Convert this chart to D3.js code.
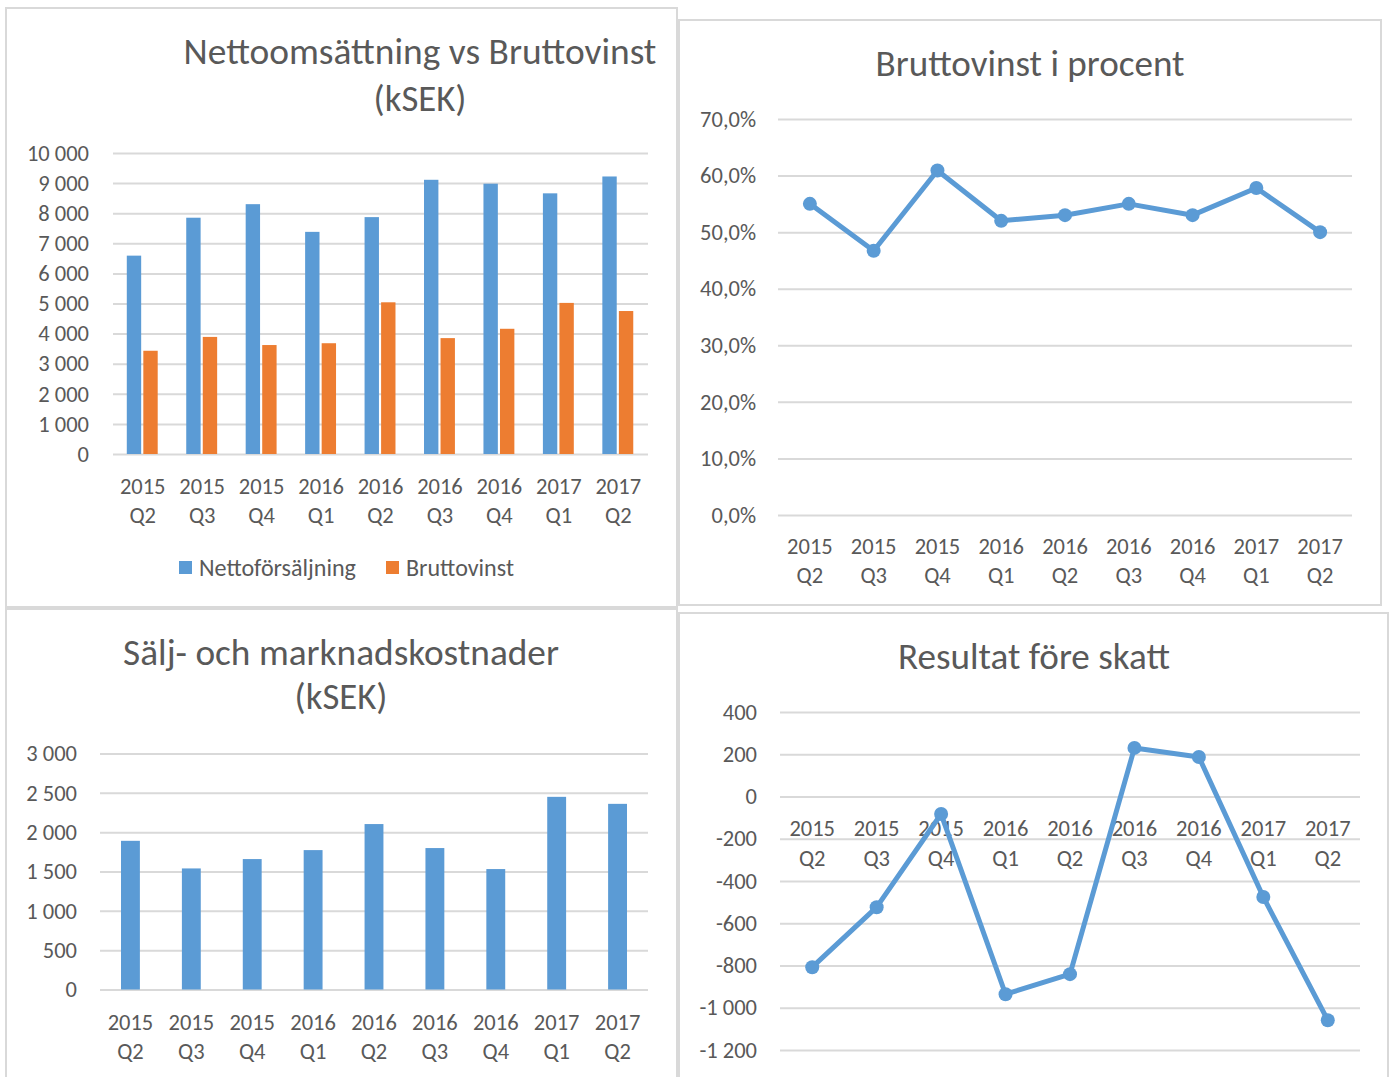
<!DOCTYPE html>
<html>
<head>
<meta charset="utf-8">
<script src="https://cdn.jsdelivr.net/npm/d3@7"></script>
<style>
  html, body { margin: 0; padding: 0; background: #ffffff; }
  svg { display: block; }
  text { font-family: Carlito, Lato, "Open Sans", sans-serif; fill: #595959; }
</style>
</head>
<body>
<svg id="chart" width="1390" height="1077"></svg>
<script>
// ---------- DATA ----------
const quarters = ["2015 Q2","2015 Q3","2015 Q4","2016 Q1","2016 Q2","2016 Q3","2016 Q4","2017 Q1","2017 Q2"];
const seriesNames = ["Nettoförsäljning", "Bruttovinst"];
const nettoforsaljning = [6590, 7850, 8300, 7380, 7870, 9110, 8980, 8660, 9220];
const bruttovinst      = [3430, 3890, 3620, 3680, 5040, 3850, 4160, 5020, 4750];
const bruttovinstProcent = [0.550, 0.467, 0.609, 0.520, 0.530, 0.550, 0.530, 0.578, 0.500];
const saljMarknad = [1890, 1539, 1658, 1772, 2103, 1798, 1531, 2449, 2360];
const resultatForeSkatt = [-808, -524, -83, -936, -841, 230, 187, -476, -1059];
const ticks1 = [0,1000,2000,3000,4000,5000,6000,7000,8000,9000,10000];
const ticks2 = [0,0.1,0.2,0.3,0.4,0.5,0.6,0.7];
const ticks3 = [0,500,1000,1500,2000,2500,3000];
const ticks4 = [-1200,-1000,-800,-600,-400,-200,0,200,400];
const titles = {
  p1: ["Nettoomsättning vs Bruttovinst", "(kSEK)"],
  p2: ["Bruttovinst i procent"],
  p3: ["Sälj- och marknadskostnader", "(kSEK)"],
  p4: ["Resultat före skatt"]
};

// ---------- STYLE ----------
const BLUE = "#5B9BD5", ORANGE = "#ED7D31", GRID = "#D9D9D9", TXT = "#595959";
const TICK_FS = 22.5;
const FONT = "Carlito, Lato, 'Open Sans', sans-serif";

const locale = d3.formatLocale({decimal: ",", thousands: " ", grouping: [3], currency: ["", ""], minus: "-"});
const fmtNum = locale.format(",d");
const fmtPct = locale.format(".1%");

const svg = d3.select("#chart");

// panel frames
const frames = [
  {x: 6, y: 8, w: 671, h: 599},
  {x: 679, y: 20, w: 702, h: 585},
  {x: 6, y: 609, w: 671, h: 480},
  {x: 679, y: 613, w: 709, h: 480}
];
svg.selectAll("rect.frame").data(frames).join("rect")
  .attr("class", "frame")
  .attr("x", d => d.x).attr("y", d => d.y).attr("width", d => d.w).attr("height", d => d.h)
  .attr("fill", "#fff").attr("stroke", GRID).attr("stroke-width", 2);

function fitText(sel, target) {
  sel.each(function() {
    const t = d3.select(this);
    t.style("font-size", "30px");
    const w = this.getComputedTextLength();
    t.style("font-size", (30 * target / w).toFixed(2) + "px");
  });
}

function title(lines, cx, baselines, widths) {
  lines.forEach((l, i) => {
    const t = svg.append("text").attr("x", cx).attr("y", baselines[i])
      .attr("text-anchor", "middle").text(l);
    fitText(t, widths[i]);
  });
}

function yAxis(g, scale, ticks, fmt, x0, x1, labelX) {
  const ax = g.append("g").attr("transform", `translate(${x0},0)`)
    .call(d3.axisLeft(scale).tickValues(ticks).tickFormat(fmt).tickSize(-(x1 - x0)).tickPadding(x0 - labelX));
  ax.select(".domain").remove();
  ax.selectAll(".tick line").attr("stroke", GRID).attr("stroke-width", 2);
  ax.selectAll(".tick text").attr("fill", TXT).style("font-size", TICK_FS + "px")
    .style("font-family", FONT);
  return ax;
}

function xAxis(g, band, y, dy1, dy2) {
  const ax = g.append("g").attr("transform", `translate(0,${y})`)
    .call(d3.axisBottom(band).tickSize(0).tickFormat(""));
  ax.select(".domain").remove();
  ax.selectAll(".tick").each(function(d) {
    const parts = d.split(" ");
    const t = d3.select(this).append("text").attr("text-anchor", "middle")
      .attr("fill", TXT).style("font-size", TICK_FS + "px")
      .style("font-family", FONT);
    t.append("tspan").attr("x", 0).attr("y", dy1).text(parts[0]);
    t.append("tspan").attr("x", 0).attr("y", dy2).text(parts[1]);
  });
}

// ---------- PANEL 1 ----------
{
  title(titles.p1, 420, [64, 111], [473, 93]);
  const g = svg.append("g");
  const x0 = d3.scaleBand().domain(quarters).range([113, 648]).padding(0);
  const y = d3.scaleLinear().domain([0, 10000]).range([454, 153]);
  yAxis(g, y, ticks1, fmtNum, 113, 648, 89);
  const bw = x0.bandwidth();
  const x1 = d3.scaleBand().domain(seriesNames).range([bw * 0.232, bw * 0.752]).paddingInner(0.13).paddingOuter(0);
  const rows = quarters.map((q, i) => ({q, vals: [nettoforsaljning[i], bruttovinst[i]]}));
  const grp = g.selectAll("g.grp").data(rows).join("g").attr("class", "grp")
    .attr("transform", d => `translate(${x0(d.q)},0)`);
  grp.selectAll("rect").data(d => d.vals.map((v, k) => ({k, v}))).join("rect")
    .attr("x", d => x1(seriesNames[d.k]))
    .attr("width", x1.bandwidth())
    .attr("y", d => y(d.v))
    .attr("height", d => y(0) - y(d.v))
    .attr("fill", d => d.k === 0 ? BLUE : ORANGE);
  xAxis(g, x0, 454, 40, 69);
  // legend
  const lg = [{name: seriesNames[0], c: BLUE, x: 179, w: 157}, {name: seriesNames[1], c: ORANGE, x: 386, w: 108}];
  lg.forEach(l => {
    svg.append("rect").attr("x", l.x).attr("y", 561).attr("width", 13).attr("height", 13).attr("fill", l.c);
    const t = svg.append("text").attr("x", l.x + 20).attr("y", 576).text(l.name);
    fitText(t, l.w);
  });
}

// ---------- PANEL 2 ----------
{
  title(titles.p2, 1030, [76], [309]);
  const g = svg.append("g");
  const x = d3.scaleBand().domain(quarters).range([778, 1352]).padding(0);
  const y = d3.scaleLinear().domain([0, 0.7]).range([515, 119]);
  yAxis(g, y, ticks2, fmtPct, 778, 1352, 756);
  xAxis(g, x, 515, 39, 68);
  const pts = quarters.map((q, i) => [x(q) + x.bandwidth() / 2, y(bruttovinstProcent[i])]);
  g.append("path").attr("d", d3.line()(pts)).attr("fill", "none").attr("stroke", BLUE)
    .attr("stroke-width", 5).attr("stroke-linejoin", "round");
  g.selectAll("circle").data(pts).join("circle").attr("cx", d => d[0]).attr("cy", d => d[1])
    .attr("r", 7).attr("fill", BLUE);
}

// ---------- PANEL 3 ----------
{
  title(titles.p3, 341, [665, 709], [436, 93]);
  const g = svg.append("g");
  const x = d3.scaleBand().domain(quarters).range([100, 648]).paddingInner(0.69).paddingOuter(0.345);
  const y = d3.scaleLinear().domain([0, 3000]).range([989.5, 753.5]);
  yAxis(g, y, ticks3, fmtNum, 100, 648, 77);
  g.selectAll("rect.bar").data(quarters).join("rect").attr("class", "bar")
    .attr("x", d => x(d)).attr("width", x.bandwidth())
    .attr("y", (d, i) => y(saljMarknad[i]))
    .attr("height", (d, i) => y(0) - y(saljMarknad[i]))
    .attr("fill", BLUE);
  xAxis(g, d3.scaleBand().domain(quarters).range([100, 648]).padding(0), 989.5, 40, 69);
}

// ---------- PANEL 4 ----------
{
  title(titles.p4, 1034, [669], [272]);
  const g = svg.append("g");
  const x = d3.scaleBand().domain(quarters).range([780, 1360]).padding(0);
  const y = d3.scaleLinear().domain([-1200, 400]).range([1050, 712]);
  yAxis(g, y, ticks4, fmtNum, 780, 1360, 757);
  xAxis(g, x, y(0), 39, 69);
  const pts = quarters.map((q, i) => [x(q) + x.bandwidth() / 2, y(resultatForeSkatt[i])]);
  g.append("path").attr("d", d3.line()(pts)).attr("fill", "none").attr("stroke", BLUE)
    .attr("stroke-width", 5).attr("stroke-linejoin", "round");
  g.selectAll("circle").data(pts).join("circle").attr("cx", d => d[0]).attr("cy", d => d[1])
    .attr("r", 7).attr("fill", BLUE);
}
</script>
</body>
</html>
